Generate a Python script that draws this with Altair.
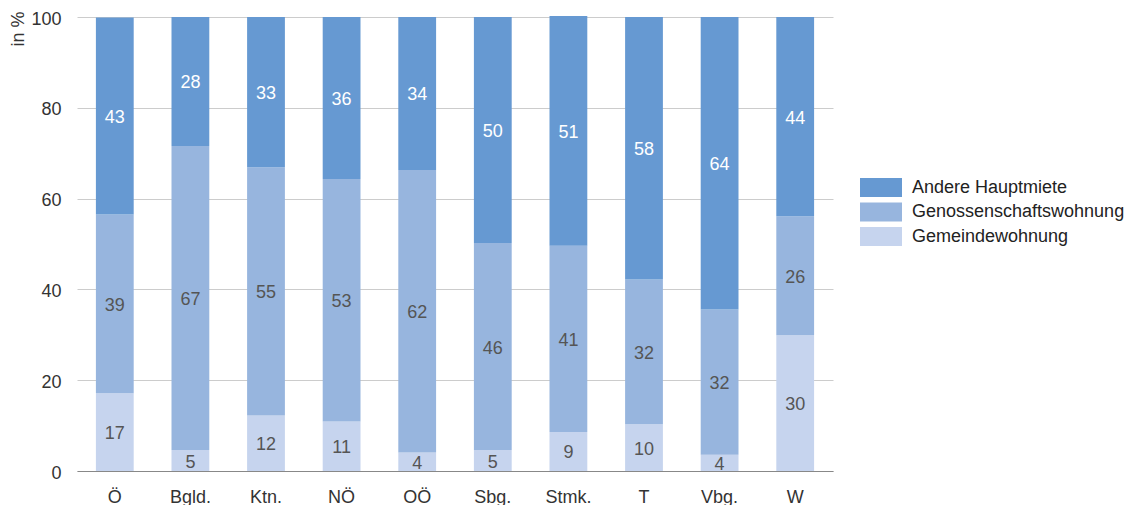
import altair as alt
import pandas as pd

# Wohnungsanteile je Bundesland (Prozent)
regions = ["Ö", "Bgld.", "Ktn.", "NÖ", "OÖ", "Sbg.", "Stmk.", "T", "Vbg.", "W"]
gemeinde = [17.1, 4.6, 12.2, 10.9, 4.1, 4.6, 8.6, 10.3, 3.6, 29.9]
genossen = [39.4, 67.0, 54.7, 53.4, 62.2, 45.6, 41.0, 31.9, 32.0, 26.2]
andere = [43.4, 28.4, 33.1, 35.7, 33.7, 49.8, 50.6, 57.8, 64.4, 43.9]

series = ["Andere Hauptmiete", "Genossenschaftswohnung", "Gemeindewohnung"]
colors = ["#6699d2", "#97b5de", "#c6d4ee"]
y_ticks = [0, 20, 40, 60, 80, 100]

rows = []
for i, region in enumerate(regions):
    for name, vals, rank in ((series[2], gemeinde, 0),
                             (series[1], genossen, 1),
                             (series[0], andere, 2)):
        rows.append({"region": region, "typ": name, "wert": vals[i], "rang": rank})
df = pd.DataFrame(rows)

FONT = "Liberation Sans"

base = alt.Chart(df).transform_stack(
    stack="wert",
    groupby=["region"],
    as_=["y0", "y1"],
    sort=[alt.SortField("rang", order="ascending")],
).transform_calculate(mid="(datum.y0 + datum.y1) / 2")

x_enc = alt.X(
    "region:N",
    sort=regions,
    title=None,
    scale=alt.Scale(paddingInner=0.5, paddingOuter=0.25),
    axis=alt.Axis(
        labelAngle=0,
        labelFont=FONT,
        labelFontSize=18,
        labelColor="#333333",
        labelPadding=17,
        ticks=False,
        tickSize=0,
        domain=True,
        domainColor="#888888",
        domainWidth=1,
        grid=False,
    ),
)

y_scale = alt.Scale(domain=[0, 100], nice=False)

bars = base.mark_bar(clip=False).encode(
    x=x_enc,
    y=alt.Y(
        "y0:Q",
        scale=y_scale,
        axis=alt.Axis(
            values=y_ticks,
            title="in %",
            titleAngle=270,
            titleAlign="right",
            titleBaseline="top",
            titleX=-68,
            titleY=-6,
            titleFont=FONT,
            titleFontSize=18,
            titleFontWeight="normal",
            titleColor="#333333",
            labelFont=FONT,
            labelFontSize=18,
            labelColor="#333333",
            labelPadding=16,
            labelOffset=2,
            labelFlush=False,
            ticks=False,
            tickSize=0,
            domain=False,
            grid=True,
            gridColor="#cccccc",
            gridWidth=1,
        ),
    ),
    y2="y1:Q",
    color=alt.Color(
        "typ:N",
        scale=alt.Scale(domain=series, range=colors),
        legend=alt.Legend(
            title=None,
            orient="none",
            direction="vertical",
            legendX=794,
            legendY=160.5,
            symbolType="M-2.1,-0.95H2.1V0.95H-2.1Z",
            symbolSize=400,
            symbolStrokeWidth=0,
            symbolOpacity=1,
            labelFont=FONT,
            labelFontSize=18,
            labelColor="#222222",
            labelOffset=21,
            labelLimit=400,
            rowPadding=4.5,
            padding=0,
        ),
    ),
)

labels = base.mark_text(font=FONT, fontSize=18, dy=2).encode(
    x=x_enc,
    y=alt.Y("mid:Q", scale=y_scale),
    text=alt.Text("wert:Q", format=".0f"),
    color=alt.condition(
        alt.datum.typ == series[0], alt.value("#ffffff"), alt.value("#555555")
    ),
)

chart = alt.layer(bars, labels).properties(
    width=756,
    height=454,
    autosize=alt.AutoSizeParams(type="none"),
    padding={"left": 77, "top": 17, "right": 304, "bottom": 34},
).configure_view(stroke=None)

chart.save("out.html", embed_options={"renderer": "svg", "actions": False})
